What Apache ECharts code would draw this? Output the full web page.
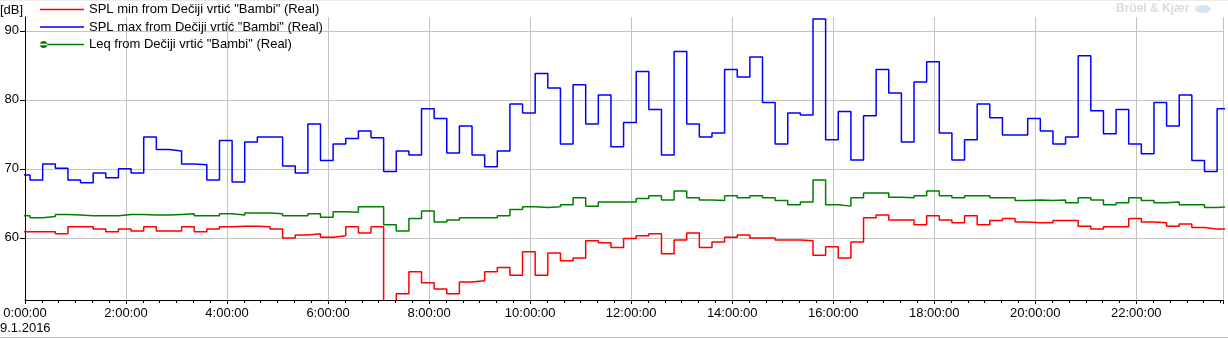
<!DOCTYPE html>
<html><head><meta charset="utf-8">
<script src="https://cdn.jsdelivr.net/npm/echarts@6/dist/echarts.min.js"></script>
<style>html,body{margin:0;padding:0;background:#fff}#c{width:1228px;height:339px}</style>
</head><body><div id="c"></div>
<script>
// 15-minute measurement intervals; first interval starts at -0:09 (minutes from 0:00, 9.1.2016)
const firstIntervalStart = -9;
const intervalMinutes = 15;
const xTickHours = [0, 2, 4, 6, 8, 10, 12, 14, 16, 18, 20, 22];
const yTickValues = [60, 70, 80, 90];
const dateLabel = '9.1.2016';
const seriesNames = [
  'SPL min from Dečiji vrtić "Bambi" (Real)',
  'SPL max from Dečiji vrtić "Bambi" (Real)',
  'Leq from Dečiji vrtić "Bambi" (Real)'
];
const splMin = [
  60.9,60.9,60.9,60.6,61.6,61.6,61.3,60.9,61.3,61.0,61.6,61.0,61.0,61.6,60.9,61.3,
  61.6,61.7,61.7,61.6,61.3,60.0,60.4,60.6,60.1,60.3,61.6,60.7,61.6,49.0,51.9,55.1,
  53.5,52.6,51.9,53.6,53.8,55.1,55.7,54.6,58.0,54.6,57.8,56.7,57.1,59.6,59.3,58.6,
  59.9,60.3,60.6,57.7,59.7,60.7,58.6,59.4,60.1,60.4,60.0,60.0,59.7,59.7,59.6,57.5,
  58.7,57.1,59.4,62.9,63.3,62.6,62.6,61.9,63.2,62.6,62.2,63.2,61.9,62.5,62.8,62.3,
  62.2,62.2,62.5,62.5,61.7,61.3,61.6,61.6,62.8,62.3,62.2,61.7,62.0,61.5,61.3,61.3
];
const splMax = [
  69.1,68.4,70.7,70.1,68.4,68.0,69.4,68.7,70.0,69.4,74.6,72.8,72.6,70.7,70.6,68.4,
  74.1,68.1,73.9,74.6,74.6,70.4,69.4,76.5,71.2,73.6,74.4,75.5,74.5,69.6,72.6,72.0,
  78.7,77.3,72.3,76.2,72.0,70.3,72.6,79.4,78.1,83.8,81.7,73.6,82.2,76.5,80.7,73.2,
  76.7,84.1,78.6,72.0,87.0,76.5,74.6,75.2,84.4,83.3,86.2,79.6,73.6,78.1,77.8,91.7,
  74.2,78.3,71.3,77.7,84.4,81.0,73.9,82.6,85.5,75.2,71.3,74.2,79.4,77.4,74.9,74.9,
  77.3,75.5,73.6,74.6,86.4,78.4,75.1,78.6,73.6,72.2,79.6,76.2,80.7,71.2,69.6,78.7
];
const leq = [
  63.2,62.9,63.1,63.4,63.3,63.2,63.2,63.2,63.4,63.4,63.3,63.3,63.4,63.5,63.2,63.2,
  63.5,63.3,63.6,63.6,63.5,63.2,63.2,63.5,63.0,63.8,63.7,64.5,64.5,61.9,61.0,62.8,
  63.9,62.3,62.6,62.9,62.9,62.9,63.2,64.1,64.5,64.4,64.5,64.8,65.8,64.6,65.2,65.2,
  65.2,65.7,66.1,65.5,66.8,65.8,65.5,65.4,66.1,65.8,66.1,65.8,65.4,64.8,65.2,68.4,
  64.8,64.6,65.8,66.5,66.5,65.9,65.8,66.1,66.8,66.1,65.8,66.1,66.1,65.8,65.8,65.4,
  65.5,65.4,65.5,65.1,65.8,65.5,64.8,65.1,65.8,65.4,65.1,65.2,64.8,64.8,64.4,64.5
];
const colors = ['#ff0000', '#0000ff', '#008000'];

function toPoints(vals) {
  const pts = vals.map((v, i) => [firstIntervalStart + i * intervalMinutes, v]);
  // close the last interval
  pts.push([firstIntervalStart + vals.length * intervalMinutes, vals[vals.length - 1]]);
  return pts;
}
const FONT = 'Liberation Sans';
const chart = echarts.init(document.getElementById('c'), null, {renderer: 'canvas'});
const mkSeries = (name, vals, color, z) => ({
  name, type: 'line', step: 'end', data: toPoints(vals), showSymbol: false, symbol: 'none',
  lineStyle: {color, width: 1.5}, itemStyle: {color}, z, clip: true, animation: false
});
chart.setOption({
  animation: false,
  backgroundColor: '#fff',
  textStyle: {fontFamily: FONT},
  grid: {left: 25, right: 5, top: 17, bottom: 39, containLabel: false},
  legend: {
    orient: 'vertical', left: 35, top: -2, itemWidth: 44, itemHeight: 14, itemGap: 4.5,
    textStyle: {fontFamily: FONT, fontSize: 13, color: '#000', padding: [0, 0, 0, 0]},
    itemStyle: {borderWidth: 0},
    data: [
      {name: seriesNames[0], icon: 'path://M0,0 H44 V1.4 H0 Z'},
      {name: seriesNames[1], icon: 'path://M0,0 H44 V1.4 H0 Z'},
      {name: seriesNames[2], icon: 'path://M0,2.9 H44 V4.3 H0 Z M0,3.6 A3.6,3.6 0 1,0 7.2,3.6 A3.6,3.6 0 1,0 0,3.6 Z'}
    ],
    selectedMode: false
  },
  xAxis: {
    type: 'value', min: 0, max: 1423, interval: 120,
    axisLine: {show: true, lineStyle: {color: '#000', width: 1}},
    axisTick: {show: true, inside: false, length: 4, lineStyle: {color: '#000'}},
    minorTick: {show: true, splitNumber: 6, length: 3, lineStyle: {color: '#000'}},
    splitLine: {show: true, lineStyle: {color: '#c4c4c4', width: 1}},
    axisLabel: {
      margin: 7, color: '#000', fontFamily: FONT, fontSize: 13, showMaxLabel: false,
      formatter: v => (v % 120 === 0 && xTickHours.includes(v / 60)) ? (v / 60) + ':00:00' : ''
    }
  },
  yAxis: {
    type: 'value', min: 51, max: 92,
    axisLine: {show: true, lineStyle: {color: '#000', width: 1}},
    axisTick: {show: true, inside: false, length: 5, customValues: yTickValues, lineStyle: {color: '#000'}},
    axisLabel: {margin: 6, color: '#000', fontFamily: FONT, fontSize: 13, customValues: yTickValues},
    splitLine: {show: true, lineStyle: {color: '#c4c4c4', width: 1}}
  },
  graphic: [
    {type: 'text', left: 0, top: 4, style: {text: '[dB]', font: '13px "' + FONT + '"', fill: '#000'}},
    {type: 'text', left: 0, top: 322, style: {text: dateLabel, font: '13px "' + FONT + '"', fill: '#000'}},
    {type: 'text', left: 1116, top: 3, style: {text: 'Brüel & Kjær', font: 'bold 12px "' + FONT + '"', fill: '#dcdcdc'}},
    {type: 'ellipse', shape: {cx: 1203, cy: 9, rx: 8, ry: 4}, style: {fill: '#d6e6f6'}},
    {type: 'line', shape: {x1: 0, y1: 0.5, x2: 1228, y2: 0.5}, style: {stroke: '#ececec', lineWidth: 1}},
    {type: 'line', shape: {x1: 0, y1: 337.5, x2: 1228, y2: 337.5}, style: {stroke: '#bdbdbd', lineWidth: 1}}
  ],
  series: [
    mkSeries(seriesNames[0], splMin, colors[0], 3),
    mkSeries(seriesNames[1], splMax, colors[1], 4),
    mkSeries(seriesNames[2], leq, colors[2], 2)
  ]
});
</script></body></html>
